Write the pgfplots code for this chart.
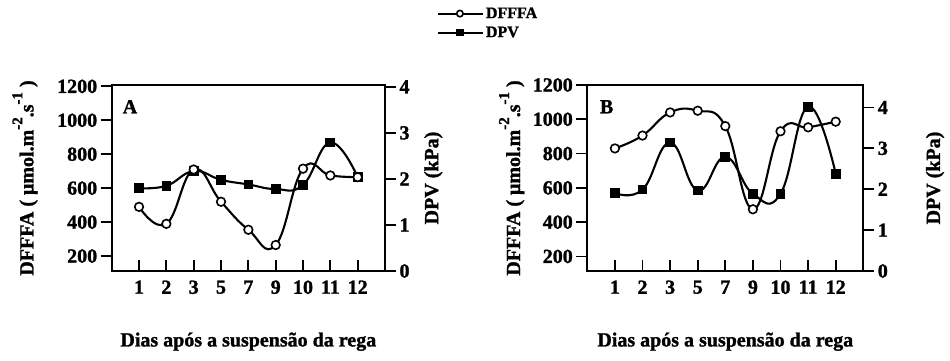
\documentclass[border=0pt]{standalone}
\usepackage{fontspec}
\setmainfont{Liberation Serif}[BoldFeatures={FakeBold=1.3}]
\usepackage{pgfplots}
\usepackage{pgfplotstable}
\pgfplotsset{compat=1.18}

% Daily readings after irrigation was suspended (idx = slot on the x axis)
\pgfplotstableread{
idx day dfffa dpv
0 1  490 1.80
1 2  390 1.85
2 3  710 2.17
3 5  520 1.98
4 7  355 1.88
5 9  265 1.78
6 10 715 1.87
7 11 675 2.79
8 12 665 2.04
}\dataA
\pgfplotstableread{
idx day dfffa dpv
0 1  830 1.91
1 2  905 1.99
2 3  1040 3.14
3 5  1050 1.97
4 7  960 2.79
5 9  475 1.89
6 10 930 1.89
7 11 953 4.02
8 12 986 2.38
}\dataB

\newcommand{\bigfont}{\fontsize{20}{23}\selectfont\bfseries}
\newcommand{\legfont}{\fontsize{16}{18}\selectfont\bfseries}
% raised exponent, a bit larger than the default superscript
\newcommand{\expo}[1]{\raisebox{0.55em}{\fontsize{15}{17}\selectfont\bfseries #1}}

\pgfplotsset{
  panel/.style={
    scale only axis, height=186pt, anchor=south west,
    xmin=-1, xmax=9,
    tick label style={font=\bigfont},
    label style={font=\bigfont},
    /pgf/number format/assume math mode=true,
    /pgf/number format/1000 sep={},
    axis line style={line width=2.3pt},
    major tick length=11pt,
    tick style={black, line width=1.8pt},
  },
  xframe/.style={panel,
    xtick={0,...,8}, xticklabels={1,2,3,5,7,9,10,11,12},
    xtick pos=bottom, tick align=inside,
    ytick=\empty, ymin=0, ymax=1,
    xlabel={Dias após a suspensão da rega},
    xlabel style={at={(axis description cs:0.5,-0.38)}, anchor=center},
    xticklabel style={yshift=-6pt},
  },
  leftax/.style={panel, hide x axis, axis y line*=left, tick align=outside,
    ytick={200,400,...,1200},
    ylabel={DFFFA ( μmol.m\expo{-2}.s\expo{-1} )},
  },
  rightax/.style={panel, hide x axis, axis y line*=right, tick align=outside,
    ymin=0, ytick={0,...,4}, ylabel={DPV (kPa)},
  },
  fffa/.style={black, line width=2.1pt, smooth, tension=0.75, mark=*,
    mark size=4.3pt, mark options={fill=white, line width=1.6pt}},
  vpd/.style={black, line width=2.1pt, smooth, tension=0.75, mark=square*,
    mark size=3.8pt, mark options={fill=black}},
}

\begin{document}
\begin{tikzpicture}
\useasboundingbox (0,0) rectangle (950pt,361pt);

% ---------- Panel A ----------
\begin{axis}[xframe, at={(111.7pt,90pt)}, width=273.3pt,
    legend style={draw=none, fill=none, at={(axis description cs:1.189,1.333)},
      anchor=west, font=\legfont, row sep=3pt, inner sep=0pt},
    legend cell align=left,
    legend image code/.code={\draw[mark repeat=2,mark phase=2,#1]
      plot coordinates {(0pt,0pt) (22pt,0pt) (45pt,0pt)};}]
  \addlegendimage{fffa, mark size=3.2pt}
  \addlegendentry{DFFFA}
  \addlegendimage{vpd, mark size=2.8pt}
  \addlegendentry{DPV}
  \node[font=\bigfont] at (axis description cs:0.067,0.883) {A};
\end{axis}
\begin{axis}[rightax, at={(111.7pt,90pt)}, width=273.3pt, ymax=4.04,
    ylabel style={at={(axis description cs:1.177,0.5)}, anchor=center}]
  \addplot[vpd] table[x=idx, y=dpv] {\dataA};
\end{axis}
\begin{axis}[leftax, at={(111.7pt,90pt)}, width=273.3pt, ymin=112, ymax=1208,
    ylabel style={at={(axis description cs:-0.317,0.5)}, anchor=center}]
  \addplot[fffa] table[x=idx, y=dfffa] {\dataA};
\end{axis}

% ---------- Panel B ----------
\begin{axis}[xframe, at={(587.3pt,90pt)}, width=276pt]
  \node[font=\bigfont] at (axis description cs:0.07,0.883) {B};
\end{axis}
\begin{axis}[rightax, at={(587.3pt,90pt)}, width=276pt, ymax=4.55,
    ylabel style={at={(axis description cs:1.26,0.5)}, anchor=center}]
  \addplot[vpd] table[x=idx, y=dpv] {\dataB};
\end{axis}
\begin{axis}[leftax, at={(587.3pt,90pt)}, width=276pt, ymin=115, ymax=1200,
    ylabel style={at={(axis description cs:-0.274,0.5)}, anchor=center}]
  \addplot[fffa] table[x=idx, y=dfffa] {\dataB};
\end{axis}
\end{tikzpicture}
\end{document}
